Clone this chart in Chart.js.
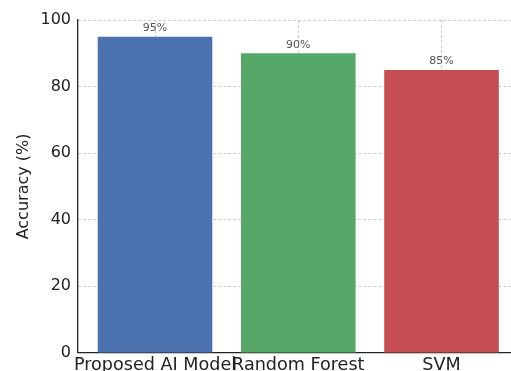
<!DOCTYPE html>
<html>
<head>
<meta charset="utf-8">
<script src="https://cdn.jsdelivr.net/npm/chart.js@4/dist/chart.umd.min.js"></script>
<style>
  html, body { margin: 0; padding: 0; background: #ffffff; overflow: hidden; }
  #wrap { width: 511px; height: 371px; overflow: hidden; }
  canvas { display: block; }
</style>
</head>
<body>
<div id="wrap"><canvas id="c" width="511" height="378"></canvas></div>
<script>
// Model comparison: classification accuracy in percent
const models = ["Proposed AI Model", "Random Forest", "SVM"];
const accuracy = [95, 90, 85];
const barColors = ["#4c72b0", "#55a868", "#c44e52"];
const yTicks = [0, 20, 40, 60, 80, 100];

const FONT = "'DejaVu Sans', sans-serif";

// Writes the percentage above each bar
const valueLabels = {
  id: "valueLabels",
  afterDatasetsDraw(chart) {
    const ctx = chart.ctx;
    const meta = chart.getDatasetMeta(0);
    ctx.save();
    ctx.font = "11px " + FONT;
    ctx.fillStyle = "#555555";
    ctx.textAlign = "center";
    ctx.textBaseline = "bottom";
    meta.data.forEach((bar, i) => {
      ctx.fillText(accuracy[i] + "%", bar.x, bar.y - 3);
    });
    ctx.restore();
  }
};

const gridColor = "rgba(190,190,190,0.75)";

new Chart(document.getElementById("c"), {
  type: "bar",
  data: {
    datasets: [{
      data: accuracy.map((v, i) => ({ x: i, y: v })),
      backgroundColor: barColors,
      borderWidth: 0,
      barPercentage: 1.0,
      categoryPercentage: 0.8
    }]
  },
  options: {
    responsive: false,
    animation: false,
    devicePixelRatio: 1,
    layout: { padding: { top: 20, right: 0, bottom: 0, left: 0 } },
    plugins: {
      legend: { display: false },
      tooltip: { enabled: false }
    },
    scales: {
      x: {
        type: "linear",
        position: "bottom",
        offset: false,
        min: -0.5375,
        max: 2.485,
        z: 1,
        afterBuildTicks(axis) {
          axis.ticks = models.map((m, i) => ({ value: i }));
        },
        ticks: {
          autoSkip: false,
          maxRotation: 0,
          minRotation: 0,
          padding: 2,
          color: "#222222",
          font: { family: FONT, size: 17.6 },
          callback: (v) => models[v]
        },
        grid: {
          offset: false,
          color: gridColor,
          lineWidth: 1,
          drawTicks: false
        },
        border: { display: true, color: "#222222", width: 1.3, dash: [3, 2] }
      },
      y: {
        min: 0,
        max: 100,
        z: 1,
        afterBuildTicks(axis) {
          axis.ticks = yTicks.map(v => ({ value: v }));
        },
        afterFit(axis) { axis.width = 78; },
        ticks: {
          padding: 7,
          color: "#222222",
          font: { family: FONT, size: 16 }
        },
        grid: {
          color: gridColor,
          lineWidth: 1,
          drawTicks: false
        },
        border: { display: true, color: "#222222", width: 1.3, dash: [3, 2] },
        title: {
          display: true,
          text: "Accuracy (%)",
          color: "#222222",
          font: { family: FONT, size: 16 },
          padding: { top: 14, bottom: 0 }
        }
      }
    }
  },
  plugins: [valueLabels]
});
</script>
</body>
</html>
